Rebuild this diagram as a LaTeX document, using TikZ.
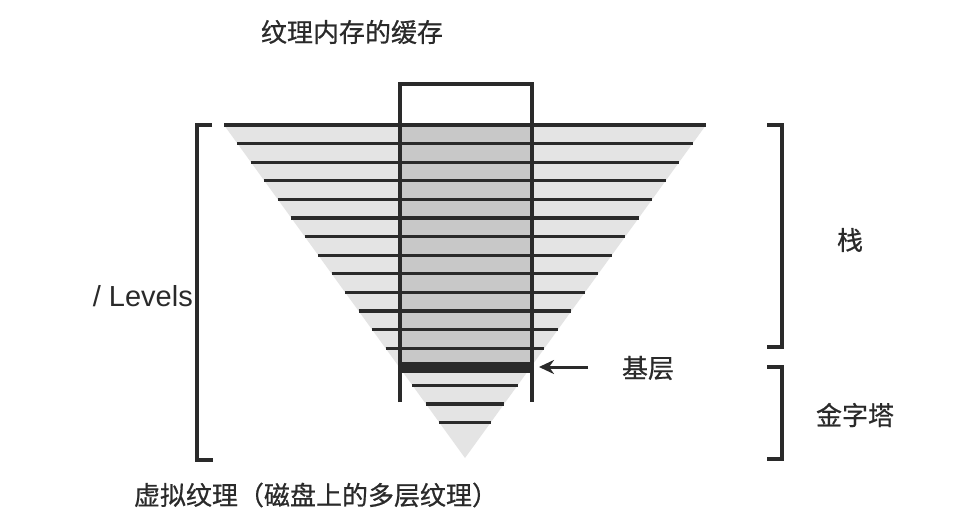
\documentclass[tikz,border=0pt]{standalone}
\usepackage{fontspec}
\newfontfamily\cjk[FakeBold=0.6]{Noto Sans CJK SC}
\setmainfont{Liberation Sans}
\usetikzlibrary{arrows.meta}
\definecolor{ink}{HTML}{2A2A2A}
\definecolor{lightfill}{HTML}{E4E4E4}
\definecolor{darkfill}{HTML}{C8C8C8}
\begin{document}
\begin{tikzpicture}[x=1pt,y=-1pt,
  bar/.style={draw=ink,line width=3.2pt},
  frame/.style={draw=ink,line width=3.2pt},
  cjklabel/.style={font=\cjk\fontsize{26}{30}\selectfont,text=ink,inner sep=0pt},
  latlabel/.style={font=\fontsize{29}{33}\selectfont,text=ink,inner sep=0pt}]
\useasboundingbox[fill=white] (0,0) rectangle (967,516);
% key points
\coordinate (apex) at (465,458);
\coordinate (topL) at (224,125);
\coordinate (topR) at (706,125);
% pyramid fill
\fill[lightfill] (topL) -- (topR) -- (apex) -- cycle;
% cache window fill
\fill[darkfill] (400,125) rectangle (532,367);
% levels
\foreach \i in {0,...,12,14,15,16}{
  \pgfmathsetmacro{\yy}{125+18.6*\i}
  \pgfmathsetmacro{\hw}{0.7237*(333-18.6*\i)}
  \draw[bar] (465-\hw,\yy) -- (465+\hw,\yy);
}
% base level (thick)
\fill[ink] (400,362) rectangle (532,372.5);
\coordinate (baseR) at (539,367);
% cache window frame
\draw[frame] (400,402) -- (400,84) -- (532,84) -- (532,402);
% left bracket
\draw[frame] (212,125) -- (197,125) -- (197,460) -- (213,460);
% right brackets
\draw[frame] (767,125) -- (782,125) -- (782,347) -- (767,347);
\draw[frame] (767,367) -- (782,367) -- (782,459) -- (767,459);
% labels
\node[cjklabel] (cache) at (352,32) {纹理内存的缓存};
\node[cjklabel] (stack) at (850,240) {栈};
\node[cjklabel] (base) at (648,368) {基层};
\node[cjklabel] (pyr) at (855,415) {金字塔};
\node[latlabel,anchor=east] (levels) at (193,296) {/ Levels};
\node[cjklabel] (virt) at (316,495) {虚拟纹理（磁盘上的多层纹理）};
% arrow
\coordinate (tail) at (588,367);
\draw[ink,line width=3pt,-{Stealth[length=15pt,width=14pt]}] (tail) -- (baseR);
\end{tikzpicture}
\end{document}
